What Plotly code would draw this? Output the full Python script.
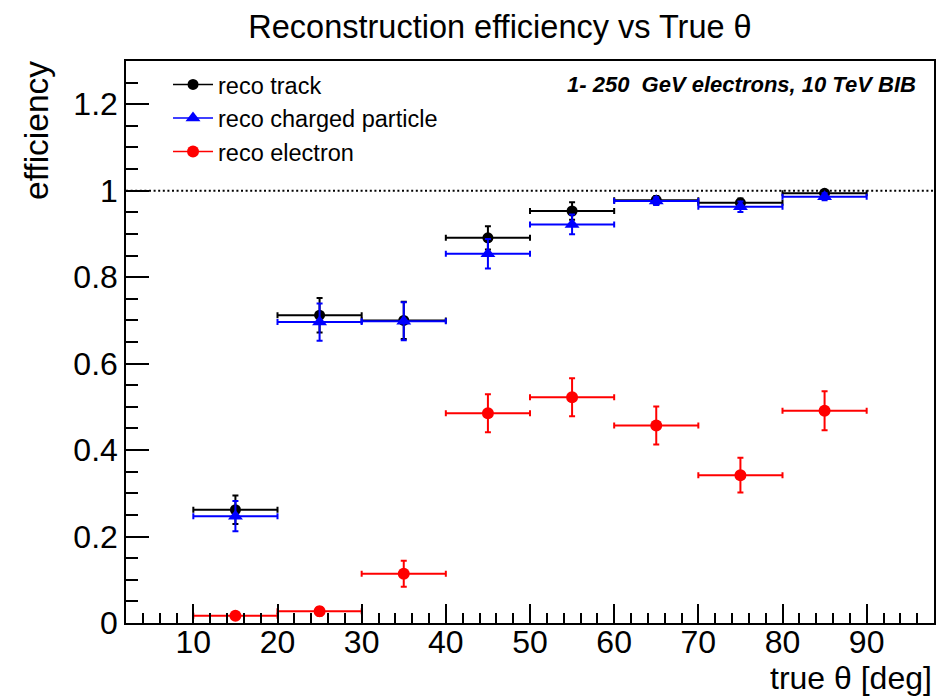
import plotly.graph_objects as go

# ---- data ----
theta = [15, 25, 35, 45, 55, 65, 75, 85]
theta_err = [5, 5, 5, 5, 5, 5, 5, 5]

track = [0.262, 0.712, 0.700, 0.891, 0.953, 0.978, 0.972, 0.994]
track_err = [0.033, 0.040, 0.043, 0.027, 0.020, 0.010, 0.010, 0.006]

charged = [0.247, 0.696, 0.698, 0.854, 0.922, 0.976, 0.963, 0.986]
charged_err = [0.035, 0.043, 0.044, 0.034, 0.023, 0.009, 0.012, 0.008]

electron = [0.017, 0.027, 0.114, 0.485, 0.522, 0.457, 0.342, 0.491]
electron_err = [0.008, 0.010, 0.030, 0.044, 0.044, 0.044, 0.040, 0.045]

series_names = ["reco track", "reco charged particle", "reco electron"]
x_tick_vals = [10, 20, 30, 40, 50, 60, 70, 80, 90]

FONT = "Liberation Sans, Arial, Helvetica, sans-serif"

fig = go.Figure()

styles = [
    (track, track_err, "#000000", "circle", 11),
    (charged, charged_err, "#0000ff", "triangle-up", 13),
    (electron, electron_err, "#ff0000", "circle", 12),
]

for (vals, errs, col, sym, sz), name in zip(styles, series_names):
    fig.add_trace(go.Scatter(
        x=theta, y=vals, mode="markers", showlegend=False, name=name,
        marker=dict(color=col, symbol=sym, size=sz, line=dict(width=0)),
        error_x=dict(type="data", array=theta_err, color=col, thickness=2, width=3),
        error_y=dict(type="data", array=errs, color=col, thickness=2, width=3),
    ))

for (vals, errs, col, sym, sz), name in zip(styles, series_names):
    fig.add_trace(go.Scatter(
        x=[None], y=[None], mode="lines+markers", name=name,
        line=dict(color=col, width=1.5),
        marker=dict(color=col, symbol=sym, size=sz),
    ))

fig.add_shape(type="line", xref="paper", yref="y", x0=0, x1=1, y0=1, y1=1,
              line=dict(color="black", width=2, dash="2px,2.6px"), layer="below")

fig.update_layout(
    width=949, height=699,
    margin=dict(l=126, r=15, t=61, b=76),
    paper_bgcolor="white", plot_bgcolor="white",
    font=dict(family=FONT, color="black"),
    title=dict(text="Reconstruction efficiency vs True θ",
               x=500 / 949, xref="container", xanchor="center",
               y=1 - 27 / 699, yref="container", yanchor="middle",
               font=dict(size=32.5, family=FONT, color="black")),
    showlegend=True,
    legend=dict(x=0.052, y=0.997, xanchor="left", yanchor="top",
                bgcolor="rgba(0,0,0,0)", borderwidth=0,
                font=dict(size=23.5, family=FONT, color="black"),
                itemwidth=40, tracegroupgap=0),
    xaxis=dict(range=[2, 98], tickvals=x_tick_vals, ticks="inside", ticklen=19,
               tickwidth=1.5, tickcolor="black", ticklabelstandoff=-10,
               minor=dict(dtick=2, tick0=0, ticks="inside", ticklen=10, tickwidth=1.5, tickcolor="black"),
               showgrid=False, zeroline=False, showline=True, mirror=True,
               linecolor="black", linewidth=1.5,
               tickfont=dict(size=32, family=FONT, color="black")),
    yaxis=dict(range=[0, 1.3], dtick=0.2, tick0=0, ticks="inside", ticklen=23,
               tickwidth=1.5, tickcolor="black",
               minor=dict(dtick=0.05, tick0=0, ticks="inside", ticklen=12, tickwidth=1.5, tickcolor="black"),
               showgrid=False, zeroline=False, showline=True, mirror=True,
               linecolor="black", linewidth=1.5,
               tickfont=dict(size=32, family=FONT, color="black")),
    annotations=[
        dict(text="efficiency", textangle=-90, xref="paper", yref="paper",
             x=(36 - 126) / 808, y=(623 - 131) / 562, xanchor="center", yanchor="middle",
             showarrow=False, font=dict(size=33.5, family=FONT, color="black")),
        dict(text="true θ [deg]", xref="paper", yref="paper",
             x=1, y=(623 - 678) / 562, xanchor="right", yanchor="middle",
             showarrow=False, font=dict(size=32, family=FONT, color="black")),
        dict(text="<b><i>1- 250  GeV electrons, 10 TeV BIB</i></b>", xref="paper", yref="paper",
             x=(918 - 126) / 808, y=(623 - 84) / 562, xanchor="right", yanchor="middle",
             showarrow=False, font=dict(size=22, family=FONT, color="black")),
    ],
)

fig.write_html("out.html", config={"displayModeBar": False},
               post_script="document.body.style.margin='0';document.body.style.overflow='hidden';")
